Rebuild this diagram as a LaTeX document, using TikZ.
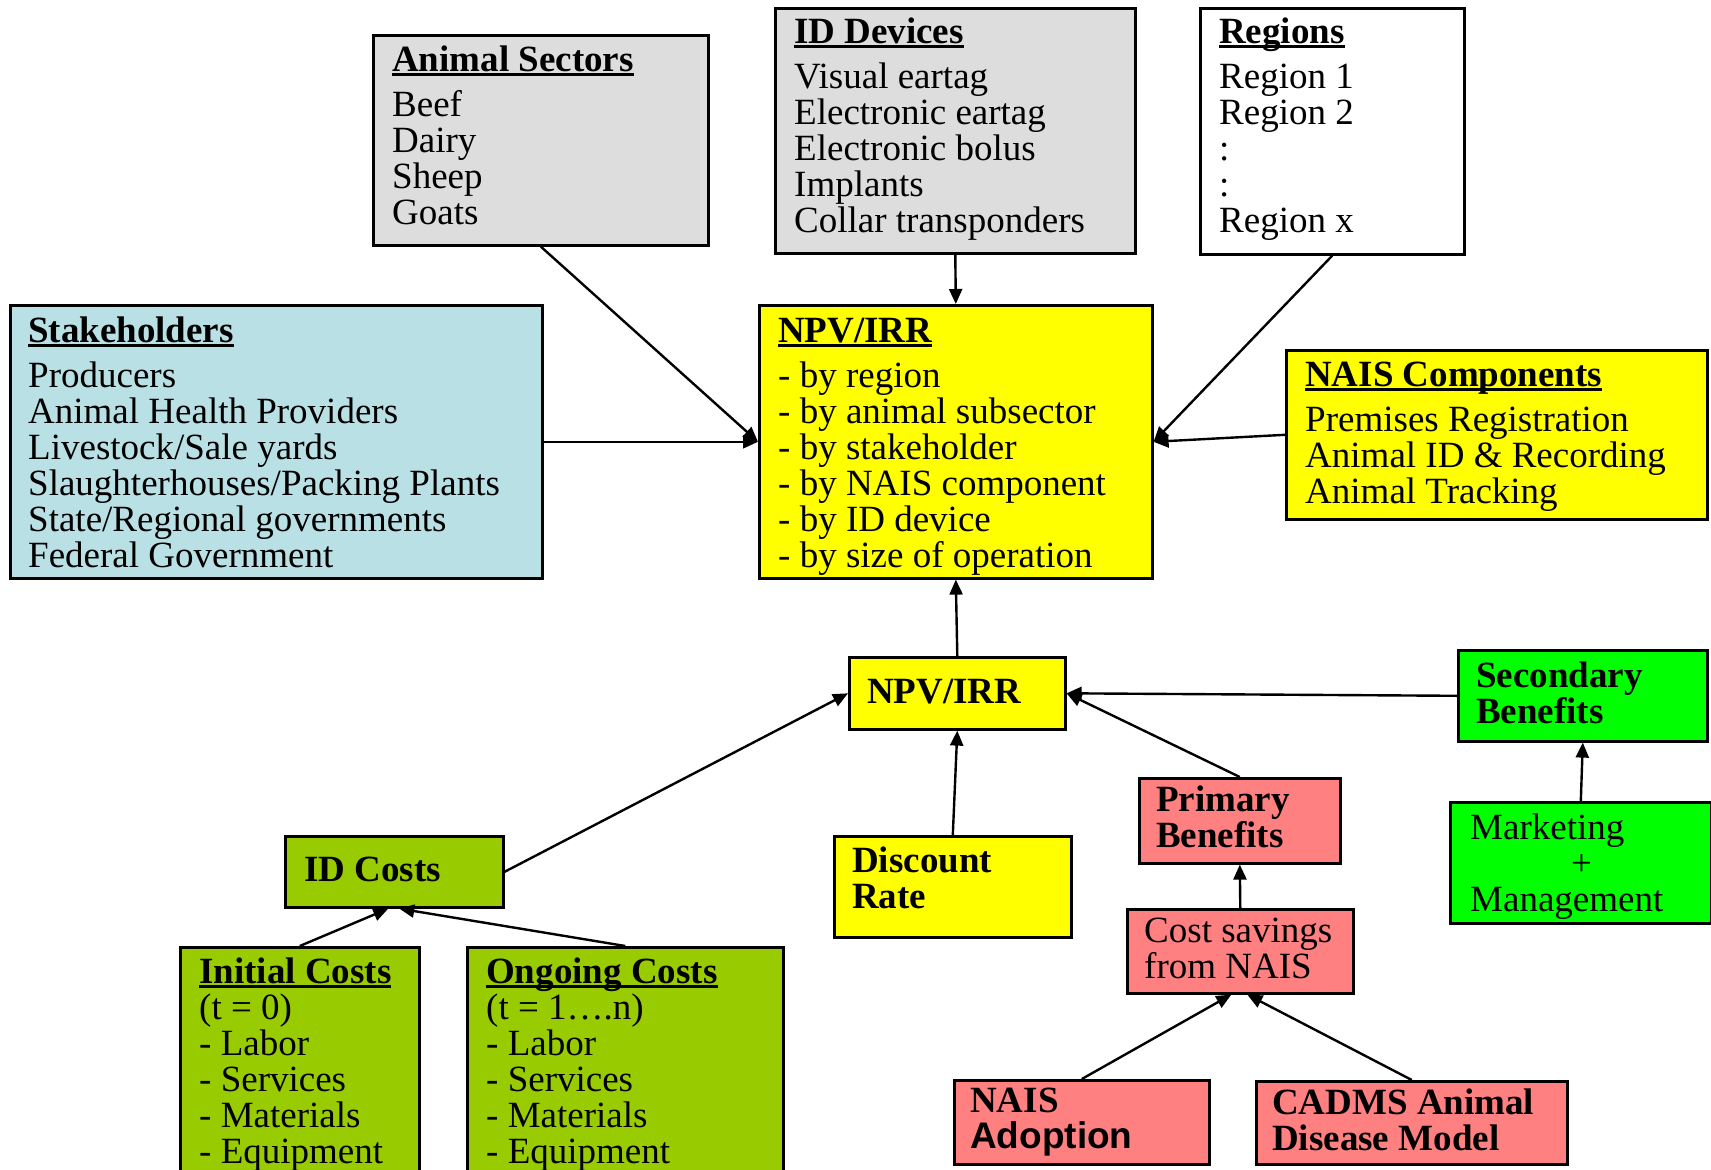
\documentclass[tikz,border=0pt]{standalone}
\usepackage{fontspec}
\setmainfont{Liberation Serif}
\newfontfamily\arialfont{Liberation Sans}
\usetikzlibrary{arrows.meta}

\definecolor{boxgrey}{HTML}{DDDDDD}
\definecolor{boxcyan}{HTML}{B9E0E4}
\definecolor{boxyellow}{HTML}{FFFF00}
\definecolor{boxolive}{HTML}{99CC00}
\definecolor{boxgreen}{HTML}{00FF00}
\definecolor{boxsalmon}{HTML}{FF8080}

% bold heading with a heavy underline
\newcommand{\hdline}[1]{\sbox0{\bfseries #1}\makebox[0pt][l]{\rule[-5pt]{\wd0}{3.4pt}}\usebox0}
% block of left-aligned lines, aligned on its first baseline
\newcommand{\txtblock}[1]{\vtop{\hsize=900pt\parindent=0pt\parskip=0pt
  \baselineskip=36pt\lineskiplimit=-100pt\rightskip=0pt plus 1fil
  \let\\\par #1}}
% extra space below a heading line
\newcommand{\hdgap}{\par\vskip9pt}

\tikzset{
  box/.style={draw=black, line width=2.6pt, inner sep=0pt, anchor=north west},
  txt/.style={anchor=base west, inner sep=0pt, font=\fontsize{37}{36}\selectfont},
  link/.style={line width=2.4pt, -{Triangle[length=15pt,width=13pt]}}
}

\begin{document}
\begin{tikzpicture}[x=1pt,y=-1pt]
\useasboundingbox (0,0) rectangle (1711,1170);

% ---- boxes ----
\node[box, fill=boxgrey,   minimum width=335pt, minimum height=210pt] (as)   at (372,34)   {};
\node[box, fill=boxgrey,   minimum width=360pt, minimum height=245pt] (idd)  at (774,7)    {};
\node[box, fill=white,     minimum width=264pt, minimum height=246pt] (reg)  at (1199,7)   {};
\node[box, fill=boxcyan,   minimum width=532pt, minimum height=273pt] (sh)   at (9,304)    {};
\node[box, fill=boxyellow, minimum width=393pt, minimum height=273pt] (npv)  at (758,304)  {};
\node[box, fill=boxyellow, minimum width=421pt, minimum height=169pt] (naisc) at (1285,349) {};
\node[box, fill=boxyellow, minimum width=216pt, minimum height=72pt]  (npvb) at (848,656)  {};
\node[box, fill=boxgreen,  minimum width=249pt, minimum height=91pt]  (sb)   at (1457,649) {};
\node[box, fill=boxsalmon, minimum width=201pt, minimum height=85pt]  (pb)   at (1138,777) {};
\node[box, fill=boxgreen,  minimum width=261pt, minimum height=121pt] (mk)   at (1449,801) {};
\node[box, fill=boxolive,  minimum width=218pt, minimum height=71pt]  (idc)  at (284,835)  {};
\node[box, fill=boxyellow, minimum width=237pt, minimum height=101pt] (dr)   at (833,835)  {};
\node[box, fill=boxsalmon, minimum width=226pt, minimum height=84pt]  (cs)   at (1126,908) {};
\node[box, fill=boxolive,  minimum width=239pt, minimum height=250pt] (ic)   at (179,946)  {};
\node[box, fill=boxolive,  minimum width=316pt, minimum height=250pt] (oc)   at (466,946)  {};
\node[box, fill=boxsalmon, minimum width=255pt, minimum height=84pt]  (na)   at (953,1079) {};
\node[box, fill=boxsalmon, minimum width=311pt, minimum height=83pt]  (cad)  at (1255,1080) {};

% ---- texts ----
\node[txt] (asT) at (392,71) {\txtblock{\hdline{Animal Sectors}\hdgap Beef\\ Dairy\\ Sheep\\ Goats}};
\node[txt] (iddT) at (794,43) {\txtblock{\hdline{ID Devices}\hdgap Visual eartag\\ Electronic eartag\\ Electronic bolus\\ Implants\\ Collar transponders}};
\node[txt] (regT) at (1219,43) {\txtblock{\hdline{Regions}\hdgap Region 1\\ Region 2\\ :\\ :\\ Region x}};
\node[txt] (shT) at (28,342) {\txtblock{\hdline{Stakeholders}\hdgap Producers\\ Animal Health Providers\\ Livestock/Sale yards\\ Slaughterhouses/Packing Plants\\ State/Regional governments\\ Federal Government}};
\node[txt] (npvT) at (778,342) {\txtblock{\hdline{NPV/IRR}\hdgap - by region\\ - by animal subsector\\ - by stakeholder\\ - by NAIS component\\ - by ID device\\ - by size of operation}};
\node[txt] (naiscT) at (1305,386) {\txtblock{\hdline{NAIS Components}\hdgap Premises Registration\\ Animal ID \& Recording\\ Animal Tracking}};
\node[txt] (npvbT) at (867,703) {\bfseries NPV/IRR};
\node[txt] (sbT) at (1476,687) {\txtblock{\bfseries Secondary\\ Benefits}};
\node[txt] (pbT) at (1156,811) {\txtblock{\bfseries Primary\\ Benefits}};
\node[txt] (mkT) at (1470,839) {\txtblock{Marketing\\ \hspace*{101pt}+\\ Management}};
\node[txt] (idcT) at (304,881) {\bfseries ID Costs};
\node[txt] (drT) at (852,872) {\txtblock{\bfseries Discount\\ Rate}};
\node[txt] (csT) at (1144,942) {\txtblock{Cost savings\\ from NAIS}};
\node[txt] (icT) at (199,983) {\txtblock{\hdline{Initial Costs}\\ (t = 0)\\ - Labor\\ - Services\\ - Materials\\ - Equipment}};
\node[txt] (ocT) at (486,983) {\txtblock{\hdline{Ongoing Costs}\\ (t = 1\dots.n)\\ - Labor\\ - Services\\ - Materials\\ - Equipment}};
\node[txt] (naT) at (970,1112) {\txtblock{\bfseries NAIS\\ \arialfont Adoption}};
\node[txt] (cadT) at (1272,1114) {\txtblock{\bfseries CADMS Animal\\ Disease Model}};

% ---- connectors ----
\draw[link] (as.south) -- (npv.west);
\draw[link] (sh.east) -- (npv.west);
\draw[link] (idd.south) -- (npv.north);
\draw[link] (reg.south) -- (npv.east);
\draw[link] (naisc.west) -- (npv.east);
\draw[link] (npvb.north) -- (npv.south);
\draw[link] (idc.east) -- (npvb.west);
\draw[link] (dr.north) -- (npvb.south);
\draw[link] (pb.north) -- (npvb.east);
\draw[link] (sb.west) -- (npvb.east);
\draw[link] (mk.north) -- (sb.south);
\draw[link] (cs.north) -- (pb.south);
\draw[link] (ic.north) -- ([xshift=-6pt]idc.south);
\draw[link] (oc.north) -- ([xshift=5pt]idc.south);
\draw[link] (na.north) -- ([xshift=-9pt]cs.south);
\draw[link] (cad.north) -- ([xshift=7pt]cs.south);
\end{tikzpicture}
\end{document}
